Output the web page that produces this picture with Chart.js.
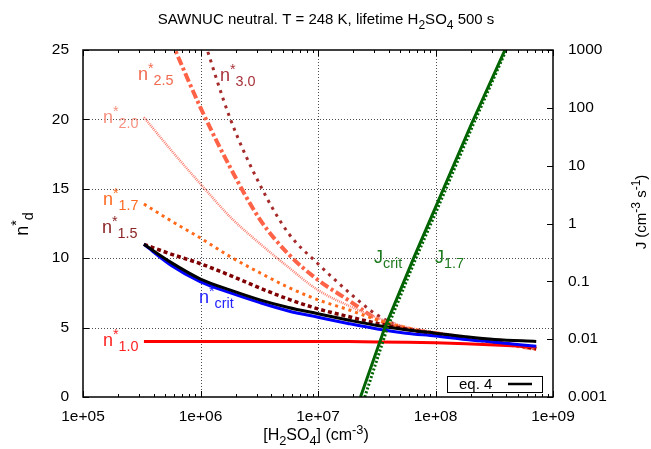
<!DOCTYPE html>
<html><head><meta charset="utf-8">
<script src="https://cdn.jsdelivr.net/npm/chart.js@4.4.1/dist/chart.umd.min.js"></script>
<style>html,body{margin:0;padding:0;background:#fff}#wrap{width:651px;height:449px;position:relative}</style>
</head><body><div id="wrap"><canvas id="c" width="651" height="449"></canvas></div>
<script>
// ---- data ----
const xValues = [3.3e5, 5.6e5, 1e6, 1.8e6, 3.2e6, 5.6e6, 1e7, 1.8e7, 3.2e7, 5.6e7, 1e8, 1.8e8, 3.2e8, 7.2e8];
const nEq4  = [11.0, 9.7, 8.5, 7.7, 7.0, 6.45, 6.0, 5.55, 5.15, 4.85, 4.6, 4.35, 4.15, 4.0];
const nCrit = [11.0, 9.5, 8.3, 7.5, 6.8, 6.2, 5.75, 5.3, 4.9, 4.6, 4.4, 4.15, 3.95, 3.65];
const n10   = [4.0, 4.0, 4.0, 4.0, 4.0, 4.0, 4.0, 3.99, 3.97, 3.94, 3.9, 3.84, 3.75, 3.6];
const n15   = [11.0, 10.3, 9.6, 8.75, 7.85, 7.05, 6.35, 5.8, 5.3, 4.9, 4.55, 4.25, 3.95, 3.5];
const n17   = [13.9, 12.7, 11.45, 10.1, 8.95, 7.9, 7.0, 6.3, 5.55, 5.0, 4.6, 4.25, 3.95, 3.5];
const n20   = [20.15, 17.8, 15.35, 12.95, 11.05, 9.35, 7.7, 6.6, 5.7, 5.05, 4.65, 4.3, 3.95, 3.5];
const n25   = [null, 25.7, 20.85, 16.5, 12.8, 10.3, 8.43, 7.0, 5.6, 4.9, 4.6, 4.25, 3.95, 3.45];
const n30   = [null, null, 26.5, 20.0, 15.3, 11.8, 9.6, 7.6, 5.9, 4.95, 4.6, 4.25, 3.95, 3.45];
const xJcrit = [2.3e7, 3.7e7, 6.5e7, 1.0e8, 2.0e8, 3.9e8];
const jCrit  = [0.001, 0.0158, 0.25, 1.9, 50, 1000];
const xJ17   = [2.5e7, 3.9e7, 6.8e7, 1.05e8, 2.08e8, 4.0e8];
const j17    = [0.001, 0.0158, 0.25, 1.9, 50, 1000];
const xTicks = [1e5, 1e6, 1e7, 1e8, 1e9];
const xTickLabels = ['1e+05', '1e+06', '1e+07', '1e+08', '1e+09'];
const yTicks = [0, 5, 10, 15, 20, 25];
const y2Ticks = [0.001, 0.01, 0.1, 1, 10, 100, 1000];
const y2TickLabels = ['0.001', '0.01', '0.1', '1', '10', '100', '1000'];

const FONT = "'Liberation Sans', Arial, Helvetica, sans-serif";
const pts = (xs, ys) => xs.map((x, i) => ({x: x, y: ys[i]}));

function drawRich(ctx, x, y, parts, size, color, align) {
  const fs = s => `${s}px ${FONT}`;
  let w = 0;
  parts.forEach(p => { const s = (p.sub || p.sup) ? size * 0.8 : size; ctx.font = fs(s); p._w = ctx.measureText(p.t).width; w += p._w; });
  let cx = align === 'center' ? x - w / 2 : (align === 'right' ? x - w : x);
  ctx.fillStyle = color; ctx.textBaseline = 'alphabetic'; ctx.textAlign = 'left';
  parts.forEach(p => {
    const s = (p.sub || p.sup) ? size * 0.8 : size;
    ctx.font = fs(s);
    const dy = p.sub ? size * 0.3 : (p.sup ? -size * 0.38 : 0);
    ctx.fillText(p.t, cx, y + dy);
    cx += p._w;
  });
}

const gp = {
  id: 'gp',
  beforeDatasetsDraw(chart) {
    const ctx = chart.ctx, a = chart.chartArea, sx = chart.scales.x, sy = chart.scales.y;
    ctx.save();
    ctx.strokeStyle = 'rgba(0,0,0,0.7)'; ctx.lineWidth = 1; ctx.setLineDash([1, 2]);
    [1e6, 1e7, 1e8].forEach(v => { const px = Math.round(sx.getPixelForValue(v)) + 0.5; ctx.beginPath(); ctx.moveTo(px, a.top); ctx.lineTo(px, a.bottom); ctx.stroke(); });
    [5, 10, 15, 20].forEach(v => { const py = Math.round(sy.getPixelForValue(v)) + 0.5; ctx.beginPath(); ctx.moveTo(a.left, py); ctx.lineTo(a.right, py); ctx.stroke(); });
    ctx.restore();
  },
  afterDatasetsDraw(chart) {
    const ctx = chart.ctx, a = chart.chartArea, sx = chart.scales.x, sy = chart.scales.y, s2 = chart.scales.y2;
    ctx.save();
    ctx.strokeStyle = '#000'; ctx.lineWidth = 1; ctx.setLineDash([]);
    // x ticks (major + minor), bottom and top
    for (let e = 5; e < 9; e++) {
      for (let k = 1; k <= 10; k++) {
        const v = k * Math.pow(10, e);
        const px = Math.round(sx.getPixelForValue(v)) + 0.5;
        const len = (k === 1 || k === 10) ? 6 : 3;
        ctx.beginPath(); ctx.moveTo(px, a.bottom); ctx.lineTo(px, a.bottom - len);
        ctx.moveTo(px, a.top); ctx.lineTo(px, a.top + len); ctx.stroke();
      }
    }
    yTicks.forEach(v => { const py = Math.round(sy.getPixelForValue(v)) + 0.5; ctx.beginPath(); ctx.moveTo(a.left, py); ctx.lineTo(a.left + 6, py); ctx.stroke(); });
    y2Ticks.forEach(v => { const py = Math.round(s2.getPixelForValue(v)) + 0.5; ctx.beginPath(); ctx.moveTo(a.right, py); ctx.lineTo(a.right - 6, py); ctx.stroke(); });
    // frame
    ctx.lineWidth = 1.5;
    ctx.strokeRect(a.left, a.top, a.right - a.left, a.bottom - a.top);
    // legend box
    ctx.fillStyle = '#fff'; ctx.lineWidth = 1;
    ctx.fillRect(447, 376, 96, 16.5); ctx.strokeRect(447.5, 376.5, 95, 16);
    ctx.fillStyle = '#000'; ctx.font = `15px ${FONT}`; ctx.textBaseline = 'alphabetic'; ctx.textAlign = 'left';
    ctx.fillText('eq. 4', 459, 389);
    ctx.lineWidth = 2.5; ctx.beginPath(); ctx.moveTo(508, 384); ctx.lineTo(532, 384); ctx.stroke();
    // curve labels
    const L = 18;
    drawRich(ctx, 138, 80, [{t:'n'},{t:'*',sup:1},{t:'2.5',sub:1}], L, '#f26a4f', 'left');
    drawRich(ctx, 220, 81, [{t:'n'},{t:'*',sup:1},{t:'3.0',sub:1}], L, '#a8323a', 'left');
    drawRich(ctx, 103, 123, [{t:'n'},{t:'*',sup:1},{t:'2.0',sub:1}], L, '#f7917f', 'left');
    drawRich(ctx, 103, 205, [{t:'n'},{t:'*',sup:1},{t:'1.7',sub:1}], L, '#ff6a22', 'left');
    drawRich(ctx, 102, 233, [{t:'n'},{t:'*',sup:1},{t:'1.5',sub:1}], L, '#8b2525', 'left');
    drawRich(ctx, 199, 303, [{t:'n'},{t:'*',sup:1},{t:'crit',sub:1}], L, '#2222ff', 'left');
    drawRich(ctx, 103, 346, [{t:'n'},{t:'*',sup:1},{t:'1.0',sub:1}], L, '#ff2222', 'left');
    drawRich(ctx, 374, 263, [{t:'J'},{t:'crit',sub:1}], L, '#1e7a1e', 'left');
    drawRich(ctx, 435, 263, [{t:'J'},{t:'1.7',sub:1}], L, '#1e7a1e', 'left');
    // title and axis titles
    drawRich(ctx, 326, 24, [{t:'SAWNUC neutral. T = 248 K, lifetime H'},{t:'2',sub:1},{t:'SO'},{t:'4',sub:1},{t:' 500 s'}], 15, '#000', 'center');
    drawRich(ctx, 316, 440, [{t:'[H'},{t:'2',sub:1},{t:'SO'},{t:'4',sub:1},{t:'] (cm'},{t:'-3',sup:1},{t:')'}], 16, '#000', 'center');
    ctx.save(); ctx.translate(28, 224); ctx.rotate(-Math.PI / 2);
    drawRich(ctx, 0, 0, [{t:'n'},{t:'*',sup:1},{t:'d',sub:1}], 18, '#000', 'center');
    ctx.restore();
    ctx.save(); ctx.translate(646, 212); ctx.rotate(-Math.PI / 2);
    drawRich(ctx, 0, 0, [{t:'J (cm'},{t:'-3',sup:1},{t:' s'},{t:'-1',sup:1},{t:')'}], 15, '#000', 'center');
    ctx.restore();
    ctx.restore();
  }
};

const base = {fill: false, pointRadius: 0, borderCapStyle: 'butt', cubicInterpolationMode: 'monotone', clip: 0};
const datasets = [
  Object.assign({}, base, {label: 'J_crit', data: pts(xJcrit, jCrit), yAxisID: 'y2', borderColor: '#006400', borderWidth: 3, tension: 0, cubicInterpolationMode: 'default'}),
  Object.assign({}, base, {label: 'J_1.7', data: pts(xJ17, j17), yAxisID: 'y2', borderColor: '#006400', borderWidth: 3, borderDash: [2, 2], tension: 0, cubicInterpolationMode: 'default'}),
  Object.assign({}, base, {label: 'eq. 4', data: pts(xValues, nEq4), yAxisID: 'y', borderColor: '#000000', borderWidth: 3}),
  Object.assign({}, base, {label: 'n*crit', data: pts(xValues, nCrit), yAxisID: 'y', borderColor: '#0000ff', borderWidth: 3}),
  Object.assign({}, base, {label: 'n*1.0', data: pts(xValues, n10), yAxisID: 'y', borderColor: '#ff0000', borderWidth: 3}),
  Object.assign({}, base, {label: 'n*1.5', data: pts(xValues, n15), yAxisID: 'y', borderColor: '#7f0000', borderWidth: 3.5, borderDash: [4, 3]}),
  Object.assign({}, base, {label: 'n*1.7', data: pts(xValues, n17), yAxisID: 'y', borderColor: '#ff6a1a', borderWidth: 3, borderDash: [3, 4]}),
  Object.assign({}, base, {label: 'n*2.0', data: pts(xValues, n20), yAxisID: 'y', borderColor: '#fa8072', borderWidth: 2.5, borderDash: [1, 1]}),
  Object.assign({}, base, {label: 'n*2.5', data: pts(xValues, n25), yAxisID: 'y', borderColor: '#ff6347', borderWidth: 4, borderDash: [9, 3, 3, 3]}),
  Object.assign({}, base, {label: 'n*3.0', data: pts(xValues, n30), yAxisID: 'y', borderColor: '#a52a2a', borderWidth: 3, borderDash: [3, 5]})
];

const tickFont = {size: 15.5, family: FONT};
new Chart(document.getElementById('c'), {
  type: 'line',
  data: {datasets: datasets},
  plugins: [gp],
  options: {
    responsive: false, animation: false, devicePixelRatio: 1,
    layout: {padding: {top: 50, left: 0, right: 0, bottom: 0}},
    plugins: {legend: {display: false}, tooltip: {enabled: false}, title: {display: false}},
    scales: {
      x: {type: 'logarithmic', position: 'bottom', min: 1e5, max: 1e9,
        grid: {display: false, drawTicks: false}, border: {display: false},
        afterBuildTicks: s => { s.ticks = xTicks.map(v => ({value: v, major: true})); },
        afterFit: s => { s.height = 52; },
        ticks: {autoSkip: false, maxRotation: 0, minRotation: 0, color: '#000', font: tickFont, padding: 10,
          callback: (v, i) => xTickLabels[i]}},
      y: {type: 'linear', position: 'left', min: 0, max: 25,
        grid: {display: false, drawTicks: false}, border: {display: false},
        afterBuildTicks: s => { s.ticks = yTicks.map(v => ({value: v})); },
        afterFit: s => { s.width = 83; },
        ticks: {color: '#000', font: tickFont, padding: 14, callback: v => String(v)}},
      y2: {type: 'logarithmic', position: 'right', min: 0.001, max: 1000,
        grid: {display: false, drawTicks: false}, border: {display: false},
        afterBuildTicks: s => { s.ticks = y2Ticks.map(v => ({value: v})); },
        afterFit: s => { s.width = 98; },
        ticks: {color: '#000', font: tickFont, padding: 15, autoSkip: false, callback: (v, i) => y2TickLabels[i]}}
    }
  }
});
</script></body></html>
